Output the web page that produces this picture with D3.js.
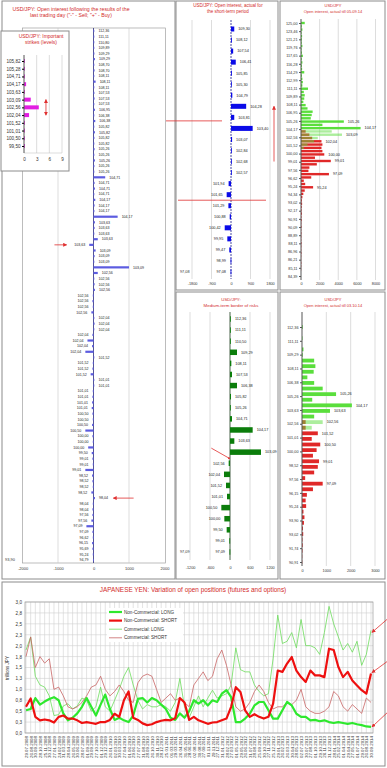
<!DOCTYPE html>
<meta charset="utf-8">
<style>
body { margin: 0; background: #fff; }
svg { font-family: "Liberation Sans", Arial, sans-serif; }
.frame { fill: none; stroke: #8c8c8c; stroke-width: 1px; }
.ttl { fill: #d22a2a; text-anchor: middle; }
.red { stroke: #e03030; stroke-width: 0.8px; fill: none; }
</style>
<svg width="387" height="768"></svg>
<script src="https://d3js.org/d3.v7.min.js"></script>
<script>
// ---- panel A: open interest after last trading day ----
var aLabels = ["112,36","111,11","110,80","109,89","109,29","109,29","108,70","108,70","108,11","108,11","108,11",
  "107,53","107,53","107,53","106,95","106,38","106,38","105,82","105,82","105,82","105,82",
  "105,26","105,26","105,26","105,26","105,26","104,71","104,71","104,71","104,71",
  "104,17","104,17","104,17","104,17","103,63","103,63","103,63","103,63","103,63",
  "103,09","103,09","103,09","103,09","102,56","102,56","102,56","102,56","102,56","102,56","102,56","102,56",
  "102,04","102,04","102,04","102,04","102,04","102,04","102,04","101,52","101,52","101,52","101,52",
  "101,01","101,01","101,01","101,01","101,01","101,01","100,50","100,50","100,50","100,50",
  "100,00","100,00","100,00","99,50","99,01","99,01","99,01","98,52","98,52","98,52","98,52",
  "98,04","98,04","98,04","97,56","97,56","97,09","97,09","96,62","96,15","95,69","95,24","94,79"];
var aValues = [15,10,20,15,25,40,20,30,20,60,20,25,30,20,40,15,50,20,40,25,15,30,20,40,25,20,
  330,30,40,20,50,30,25,680,40,30,20,120,-120,60,30,20,1000,120,20,30,40,-20,-30,-20,-60,
  20,30,15,-30,-170,-40,-230,20,-20,-30,-80,15,20,-20,-30,-40,-50,-30,-20,-40,-230,
  -30,-20,-150,-50,-30,-20,-230,-40,-30,-20,-60,40,-20,-30,-30,-60,-200,-30,-20,-40,-30,-20,-15];
var aTicks = [-2000, -1000, 0, 1000, 2000];

// ---- panel B: important strikes ----
var bLabels = ["105,82","105,28","104,71","104,17","103,63","103,09","102,56","102,04","101,52","101,01","100,50","99,50"];
var bValues = [0.2, 0.2, 0.2, 0.5, 0.2, 1.6, 3.5, 1.2, 0.2, 0.2, 0.2, 0.2];
var bTicks = [0, 3, 6, 9];

// ---- panel C: short-term period ----
var cLabels = ["109,30","108,12","107,54","106,41","105,85","105,30","104,79","104,28","103,81","103,40","103,07",
  "102,84","102,68","102,57","101,94","101,65","101,29","100,88","100,42","99,95","99,47","98,99","97,08"];
var cValues = [150,40,100,220,40,30,60,700,150,1000,50,20,20,15,-110,-200,-120,-60,-290,-170,-80,-20,-20];
var cTicks = [-1800, -900, 0, 900, 1800];

// ---- panel D: medium-term border of risks ----
var dLabels = ["112,36","111,11","110,50","109,29","108,11","107,53","106,38","105,82","105,26","104,71","104,17",
  "103,63","103,09","102,56","102,04","101,52","101,01","100,50","100,00","99,50","99,01","97,09"];
var dValues = [20,20,20,210,40,60,210,30,10,60,680,130,930,-40,-180,-120,-90,-260,-170,-100,-20,-15];
var dTicks = [-1200, -600, 0, 600, 1200];

// ---- panel E: open interest till 05.09.14 (calls green, puts red) ----
var eTicks = ["125,00","123,46","121,21","119,76","117,65","116,28","114,29","112,99","111,11","109,89","108,11",
  "106,95","105,26","104,17","102,56","101,52","100,00","99,01","97,56","96,62","95,24","94,34","93,02","92,17",
  "90,91","90,09","88,89","88,11","86,96","86,21","85,11","84,39"];
var eCalls = [400,80,150,60,120,100,80,150,60,100,200,80,150,100,120,350,100,150,200,150,
  750,300,400,350,250,500,700,1250,1150,1050,4600,2300,6400,3300,4400,1800,1400,700,300,0,
  0,0,0,0,0,0,0,0,0,0,0,0,0,0,0,0,0,0,0,0,0,0,0,0,0,0,0,0,0,0,0,0,0,0,0,0,0,0];
var ePuts = [0,0,0,0,0,0,0,0,0,0,0,0,0,0,0,0,0,0,0,0,0,0,0,0,0,0,0,0,0,0,0,0,0,
  500,900,1200,2200,2300,2200,2300,2500,1500,3200,1700,900,800,3000,1100,300,450,1300,400,250,
  150,100,120,80,60,100,50,80,40,60,30,50,40,30,60,40,30,50,30,20,40,30,20];
var eNotes = [[30,"105,26"],[32,"104,17"],[34,"103,09"],[36,"102,04"],[40,"100,00"],[42,"99,01"],[46,"97,09"],[50,"95,24"]];
var eXTicks = [0, 2000, 4000, 6000, 8000];

// ---- panel F: open interest till 03.10.14 ----
var fTicks = ["112,36","111,11","109,29","108,11","106,38","105,26","103,63","102,56","101,01","100,00",
  "98,52","97,56","96,15","95,24","93,90","93,02","91,74","90,91"];
var fCalls = [30,0,20,0,60,30,500,550,480,220,500,850,1400,420,2050,1150,500,850,400,
  0,0,0,0,0,0,0,0,0,0,0,0,0,0,0,0,0,0,0,0,0,0,0,0];
var fPuts = [0,0,0,0,0,0,0,0,0,0,0,0,0,0,0,0,0,150,150,650,400,750,600,450,700,650,500,130,850,
  450,200,150,170,60,100,80,40,50,20,30,20,10,10];
var fNotes = [[12,"105,26"],[14,"104,17"],[15,"103,63"],[17,"102,56"],[19,"101,52"],[21,"100,50"],[24,"99,01"],[28,"97,09"]];
var fXTicks = [0, 1000, 2000, 3000];

// ---- panel G: yen positions, trillions JPY, monthly from 29.07.2008 ----
var ncLong = [0.52,0.55,0.80,0.65,0.72,0.78,0.82,0.75,0.45,0.29,0.35,0.45,0.60,0.80,0.60,0.40,0.65,0.88,0.55,0.30,
  0.35,0.29,0.25,0.40,0.78,0.80,0.70,0.80,0.75,0.65,0.55,0.35,0.30,0.45,0.35,0.50,0.75,0.67,0.75,0.63,
  0.75,0.71,0.90,0.98,0.82,0.25,0.25,0.33,0.44,0.63,0.71,0.71,0.52,0.33,0.33,0.52,0.71,0.63,0.44,0.37,
  0.37,0.29,0.30,0.27,0.29,0.25,0.23,0.25,0.23,0.21,0.23,0.20,0.18,0.15,0.14];
var ncShort = [0.60,0.79,0.37,0.29,0.31,0.29,0.24,0.37,0.40,0.33,0.33,0.29,0.23,0.25,0.23,0.21,0.25,0.25,0.30,0.44,
  0.37,0.75,0.95,0.35,0.30,0.22,0.18,0.20,0.25,0.28,0.30,0.29,0.34,0.80,0.70,0.30,0.37,0.29,0.25,0.21,
  0.24,0.25,0.29,0.33,0.60,1.05,0.94,0.52,0.37,0.43,0.37,0.33,0.37,0.67,1.43,1.40,1.59,1.74,1.43,1.28,
  1.17,1.43,1.32,1.32,1.28,1.93,1.90,1.51,1.28,1.40,1.20,1.09,0.98,0.90,1.36];
var cLong = [1.90,2.20,1.30,1.10,1.05,0.85,0.40,0.42,0.62,0.67,0.55,0.62,0.80,0.75,0.50,0.60,1.05,0.60,0.50,0.75,
  1.00,1.30,1.50,1.10,0.75,0.55,0.65,0.60,0.60,0.65,0.60,0.50,0.70,1.25,0.60,0.35,0.60,0.85,0.60,0.80,
  0.98,0.80,0.85,0.90,1.10,1.95,1.45,1.40,1.40,1.10,0.95,0.85,0.90,1.70,2.70,2.05,2.10,2.30,1.95,2.60,
  2.00,2.00,1.95,1.80,2.30,2.90,2.50,2.20,1.90,2.05,1.85,2.10,1.55,1.80,2.35];
var cShort = [1.75,2.20,1.50,1.75,1.60,1.70,1.00,1.05,0.85,0.60,0.55,0.60,0.70,0.85,1.05,1.10,1.30,1.00,0.85,0.95,
  1.10,0.95,0.75,0.70,1.15,1.30,1.35,1.30,1.00,0.70,0.80,0.90,0.75,0.80,0.70,0.60,1.10,1.25,1.40,1.20,
  1.30,1.70,1.90,1.55,1.10,0.60,0.50,0.55,0.70,0.95,1.10,0.95,0.70,0.55,0.60,0.60,0.70,0.65,0.75,1.00,
  0.60,0.50,0.45,0.45,0.50,0.60,0.95,0.85,0.60,0.50,0.65,0.55,0.45,0.80,0.70];
var gStart = new Date(2008, 6, 29);
var gDates = d3.range(ncLong.length).map(function(i) {
  return d3.timeFormat("%d.%m.%Y")(d3.timeWeek.offset(gStart, Math.round(i * 4.348)));
});
var gSeries = [
  {name: "Non-Commercial: LONG", values: ncLong, color: "#2ee82e", w: 2.2},
  {name: "Non-Commercial: SHORT", values: ncShort, color: "#ee1010", w: 2.2},
  {name: "Commercial: LONG", values: cLong, color: "#6cdc5c", w: 0.8},
  {name: "Commercial: SHORT", values: cShort, color: "#c86464", w: 0.8}
];

var svg = d3.select("svg");
var defs = svg.append("defs");
defs.append("marker").attr("id", "ah").attr("viewBox", "0 0 6 6").attr("refX", 5).attr("refY", 3)
  .attr("markerWidth", 5).attr("markerHeight", 5).attr("orient", "auto-start-reverse")
  .append("path").attr("d", "M0,0L6,3L0,6z").attr("fill", "#e03030");

function frame(x, y, w, h, fill) {
  svg.append("rect").attr("class", "frame").attr("x", x).attr("y", y).attr("width", w).attr("height", h)
    .style("fill", fill || "none");
}
function title(lines, cx, y0, fs, dy) {
  lines.forEach(function(t, i) {
    svg.append("text").attr("class", "ttl").attr("x", cx).attr("y", y0 + i * dy).style("font-size", fs + "px").text(t);
  });
}
function vgrid(g, x, vals, y1, y2) {
  g.append("g").selectAll("line").data(vals).join("line")
    .attr("x1", x).attr("x2", x).attr("y1", y1).attr("y2", y2)
    .attr("stroke", "#c6c6c6").attr("stroke-width", 0.6);
}
function xAxis(g, x, ticks, y, fs) {
  var ax = g.append("g").attr("transform", "translate(0," + y + ")")
    .call(d3.axisBottom(x).tickValues(ticks).tickSize(0).tickPadding(0).tickFormat(function(d) { return String(d); }));
  ax.select(".domain").remove();
  ax.attr("font-family", null).attr("font-size", fs);
  ax.selectAll("text").attr("fill", "#333");
  return ax;
}
function arrow(x1, y1, x2, y2, both) {
  var l = svg.append("line").attr("class", "red").attr("x1", x1).attr("y1", y1).attr("x2", x2).attr("y2", y2)
    .attr("marker-end", "url(#ah)");
  if (both) l.attr("marker-start", "url(#ah)");
}

// centred bar chart with category names written at bar ends
function centerChart(o) {
  var g = svg.append("g");
  var x = d3.scaleLinear().domain(o.dom).range(o.xr);
  var y = d3.scalePoint().domain(d3.range(o.labels.length)).range(o.yr);
  vgrid(g, x, o.grid, o.top, o.bottom);
  g.append("line").attr("x1", x(0)).attr("x2", x(0)).attr("y1", o.top).attr("y2", o.bottom)
    .attr("stroke", o.axisColor).attr("stroke-width", 0.8).attr("stroke-dasharray", o.dash || null);
  g.append("g").selectAll("rect").data(o.values).join("rect")
    .attr("x", function(d) { return Math.min(x(0), x(d)); })
    .attr("y", function(d, i) { return y(i) - o.bh / 2; })
    .attr("width", function(d) { return Math.max(0.8, Math.abs(x(d) - x(0))); })
    .attr("height", o.bh).attr("fill", o.color);
  g.append("g").selectAll("text").data(o.values).join("text")
    .attr("x", function(d) { return d >= 0 ? Math.max(x(d), x(0) + 1) + o.gap : Math.min(x(d), x(0) - 1) - o.gap; })
    .attr("y", function(d, i) { return y(i); }).attr("dy", "0.35em")
    .attr("text-anchor", function(d) { return d >= 0 ? "start" : "end"; })
    .style("font-size", o.fs + "px").attr("fill", "#222")
    .text(function(d, i) { return o.labels[i]; });
  xAxis(g, x, o.ticks, o.tickY, o.tfs);
  return {x: x, y: y};
}

// open-interest chart: calls and puts from zero
function oiChart(o) {
  var g = svg.append("g");
  var x = d3.scaleLinear().domain([0, o.max]).range(o.xr);
  var y = d3.scaleLinear().domain([0, o.calls.length - 1]).range(o.yr);
  var yt = d3.scaleLinear().domain([0, o.ticks.length - 1]).range(o.yr);
  vgrid(g, x, o.xticks.slice(1), o.top, o.bottom);
  g.append("g").selectAll("rect").data(o.puts).join("rect")
    .attr("x", x(0)).attr("y", function(d, i) { return y(i) - o.bh / 2; })
    .attr("width", function(d) { return x(d) - x(0); }).attr("height", o.bh).attr("fill", "#e02828");
  g.append("g").selectAll("rect").data(o.calls).join("rect")
    .attr("x", x(0)).attr("y", function(d, i) { return y(i) - o.bh / 2; })
    .attr("width", function(d) { return x(d) - x(0); }).attr("height", o.bh).attr("fill", "#5ade3c")
    .attr("fill-opacity", function(d, i) { return o.puts[i] > 0 ? 0.5 : 1; });
  var ay = g.append("g").attr("transform", "translate(" + o.xr[0] + ",0)")
    .call(d3.axisLeft(yt).tickValues(d3.range(o.ticks.length)).tickSize(2).tickPadding(1.5)
      .tickFormat(function(i) { return o.ticks[i]; }));
  ay.select(".domain").attr("d", "M0," + o.top + "V" + o.bottom).attr("stroke", "#555");
  ay.attr("font-family", null).attr("font-size", o.fs);
  ay.selectAll("line").attr("stroke", "#555");
  ay.selectAll("text").attr("fill", "#333");
  g.append("g").selectAll("text").data(o.notes).join("text")
    .attr("x", function(d) { return x(Math.max(o.calls[d[0]], o.puts[d[0]])) + 4; })
    .attr("y", function(d) { return y(d[0]); }).attr("dy", "0.35em")
    .style("font-size", o.fs + "px").attr("fill", "#222").text(function(d) { return d[1]; });
  xAxis(g, x, o.xticks, o.tickY, o.fs);
  return {x: x, y: y};
}

// ---------- panel A ----------
frame(2, 1, 173, 578);
svg.append("rect").attr("x", 22.5).attr("y", 28).attr("width", 143).attr("height", 535)
  .attr("fill", "none").attr("stroke", "#a0a0a0").attr("stroke-width", 0.7);
title(["USD/JPY: Open interest following the results of the", "last trading day (\"-\" - Sell; \"+\" - Buy)"], 71, 11, 5.2, 6);
var A = centerChart({labels: aLabels, values: aValues, dom: [-2000, 2000], xr: [22.5, 164.5], yr: [31, 560],
  grid: [-1000, 1000], top: 28, bottom: 563, axisColor: "#2a2a7a", bh: 2.2, color: "#5c5ce0",
  gap: 4, fs: 3.6, ticks: aTicks, tickY: 567, tfs: 4});
svg.append("text").attr("x", 5).attr("y", A.y(aLabels.length - 1)).attr("dy", "0.35em")
  .style("font-size", "4px").attr("fill", "#333").text("93,90");
arrow(A.x(-1100), A.y(38), A.x(-760), A.y(38));
arrow(A.x(1130), A.y(83), A.x(560), A.y(83));

// ---------- panel B (inset) ----------
frame(1, 31, 68, 140, "#fff");
title(["USD/JPY: Important", "strikes (levels)"], 41, 38, 5, 6);
(function() {
  var g = svg.append("g");
  var x = d3.scaleLinear().domain([0, 9]).range([24, 62]);
  var y = d3.scalePoint().domain(d3.range(bLabels.length)).range([61, 146]);
  vgrid(g, x, [3, 6, 9], 55, 153);
  g.append("line").attr("x1", 24).attr("x2", 62).attr("y1", 153).attr("y2", 153).attr("stroke", "#c6c6c6").attr("stroke-width", 0.6);
  g.append("g").selectAll("rect").data(bValues).join("rect")
    .attr("x", x(0)).attr("y", function(d, i) { return y(i) - 2; })
    .attr("width", function(d) { return x(d) - x(0); }).attr("height", 4).attr("fill", "#e21de2");
  var ay = g.append("g").attr("transform", "translate(" + x(0) + ",0)")
    .call(d3.axisLeft(y).tickSize(2).tickPadding(1.5).tickFormat(function(i) { return bLabels[i]; }));
  ay.select(".domain").attr("d", "M0,55V153").attr("stroke", "#555");
  ay.attr("font-family", null).attr("font-size", 4.6);
  ay.selectAll("text").attr("fill", "#333");
  xAxis(g, x, bTicks, 158, 4.6);
  arrow(x(5.2), y(5), x(5.2), y(7), true);
})();

// ---------- panel C ----------
frame(176, 1, 102, 289);
title(["USD/JPY: Open interest, actual for", "the short-term period"], 228, 7, 4.5, 6);
var C = centerChart({labels: cLabels, values: cValues, dom: [-1800, 1800], xr: [192, 270], yr: [29, 272],
  grid: [-1800, -900, 900, 1800], top: 20, bottom: 279, axisColor: "#1a1a8a", dash: "2,1", bh: 5, color: "#0a0ae8",
  gap: 4, fs: 3.8, ticks: cTicks, tickY: 282, tfs: 3.8});
svg.append("text").attr("x", 180).attr("y", C.y(cLabels.length - 1)).attr("dy", "0.35em")
  .style("font-size", "3.8px").attr("fill", "#333").text("97,08");
var cMid1 = (C.y(8) + C.y(9)) / 2 - 2, cMid2 = (C.y(15) + C.y(16)) / 2;
svg.append("line").attr("class", "red").attr("x1", 166).attr("x2", 222).attr("y1", cMid1).attr("y2", cMid1);
svg.append("line").attr("class", "red").attr("x1", 178).attr("x2", 266).attr("y1", cMid2).attr("y2", cMid2);
arrow(274, C.y(12), 274, C.y(7));

// ---------- panel E ----------
frame(280, 1, 105, 289);
title(["USD/JPY", "Open interest, actual till 05.09.14"], 333, 7, 4, 6);
oiChart({calls: eCalls, puts: ePuts, ticks: eTicks, notes: eNotes, max: 8000, xr: [301, 375.5], yr: [23, 276],
  top: 19, bottom: 280, bh: 2.4, fs: 3.8, xticks: eXTicks, tickY: 282});

// ---------- panel D ----------
frame(176, 292, 102, 287);
title(["USD/JPY:", "Medium-term border of risks"], 231, 301, 4.4, 6);
var D = centerChart({labels: dLabels, values: dValues, dom: [-1200, 1200], xr: [190, 270], yr: [319, 552],
  grid: [-1200, -600, 600, 1200], top: 312, bottom: 560, axisColor: "#1a3a1a", bh: 5.5, color: "#0b7d0b",
  gap: 4, fs: 3.8, ticks: dTicks, tickY: 566, tfs: 3.8});
svg.append("text").attr("x", 180).attr("y", D.y(dLabels.length - 1)).attr("dy", "0.35em")
  .style("font-size", "3.8px").attr("fill", "#333").text("97,09");
svg.append("line").attr("class", "red").attr("x1", D.x(-560)).attr("y1", D.y(12) - 4).attr("x2", D.x(0) - 1).attr("y2", D.y(12) + 6);
svg.append("circle").attr("cx", D.x(0) - 1).attr("cy", D.y(12) + 6).attr("r", 1).attr("fill", "#e03030");

// ---------- panel F ----------
frame(280, 292, 105, 287);
title(["USD/JPY", "Open interest, actual till 03.10.14"], 333, 301, 4, 6);
oiChart({calls: fCalls, puts: fPuts, ticks: fTicks, notes: fNotes, max: 3000, xr: [302, 375], yr: [327, 562],
  top: 312, bottom: 566, bh: 3.8, fs: 3.8, xticks: fXTicks, tickY: 569});

// ---------- panel G ----------
frame(2, 582, 383, 184);
svg.append("text").attr("class", "ttl").attr("x", 193).attr("y", 592).style("font-size", "6.4px")
  .text("JAPANESE YEN: Variation of open positions (futures and options)");
(function() {
  var g = svg.append("g");
  var x = d3.scaleLinear().domain([0, ncLong.length - 1]).range([26, 371]);
  var y = d3.scaleLinear().domain([0, 3]).range([733, 602]);
  var yt = d3.range(0, 3.01, 0.25);
  g.append("g").selectAll("line").data(d3.range(ncLong.length)).join("line")
    .attr("x1", x).attr("x2", x).attr("y1", 602).attr("y2", 733).attr("stroke", "#d0d0d0").attr("stroke-width", 0.6);
  g.append("g").selectAll("line").data(yt).join("line")
    .attr("x1", 25).attr("x2", 373).attr("y1", y).attr("y2", y).attr("stroke", "#d0d0d0").attr("stroke-width", 0.6);
  g.append("rect").attr("x", 25).attr("y", 602).attr("width", 348).attr("height", 131)
    .attr("fill", "none").attr("stroke", "#9a9a9a").attr("stroke-width", 0.7);
  var line = d3.line().x(function(d, i) { return x(i); }).y(function(d) { return y(d); });
  [2, 3, 0, 1].forEach(function(k) {
    var s = gSeries[k];
    g.append("path").attr("d", line(s.values)).attr("fill", "none").attr("stroke", s.color)
      .attr("stroke-width", s.w).attr("stroke-linejoin", "round");
  });
  var ay = g.append("g").attr("transform", "translate(25,0)")
    .call(d3.axisLeft(y).tickValues(yt).tickSize(0).tickPadding(3)
      .tickFormat(function(d) { return d3.format(".1f")(d).replace(".", ","); }));
  ay.select(".domain").remove();
  ay.attr("font-family", null).attr("font-size", 4.6);
  ay.selectAll("text").attr("fill", "#333");
  var ax = g.append("g").attr("transform", "translate(0,733)")
    .call(d3.axisBottom(x).tickValues(d3.range(ncLong.length)).tickSize(0).tickFormat(function(i) { return gDates[i]; }));
  ax.select(".domain").remove();
  ax.attr("font-family", null).attr("font-size", 4.4);
  ax.selectAll("text").attr("fill", "#333").attr("y", 0).attr("x", -3).attr("dy", "0.35em")
    .attr("transform", "rotate(-90)").style("text-anchor", "end");
  svg.append("text").attr("transform", "translate(9,668) rotate(-90)").attr("text-anchor", "middle")
    .style("font-size", "4.6px").attr("fill", "#333").text("trillions JPY");
  // legend
  var lg = g.append("g").attr("transform", "translate(107,608)");
  lg.append("rect").attr("x", 0).attr("y", 0).attr("width", 76).attr("height", 34).attr("fill", "#fff");
  gSeries.forEach(function(s, i) {
    lg.append("line").attr("x1", 2).attr("x2", 15).attr("y1", 4 + i * 8.6).attr("y2", 4 + i * 8.6)
      .attr("stroke", s.color).attr("stroke-width", s.w);
    lg.append("text").attr("x", 17).attr("y", 4 + i * 8.6).attr("dy", "0.35em")
      .style("font-size", "4.6px").attr("fill", "#333").text(s.name);
  });
  var n = ncLong.length - 1;
  arrow(387, y(cLong[n]) - 11, x(n) + 1, y(cLong[n]) + 2);
  arrow(387, y(ncShort[n]) - 12, x(n) + 1, y(ncShort[n]) - 1);
  arrow(387, y(ncLong[n]) - 14, x(n) + 1, y(ncLong[n]));
})();
</script>
